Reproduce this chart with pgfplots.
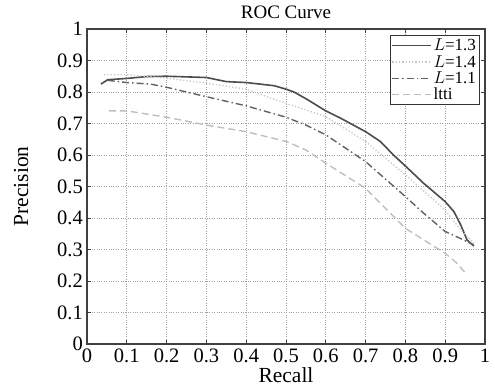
\documentclass[border=0pt]{standalone}
\usepackage{fontspec}
\setmainfont{Liberation Serif}
\usepackage{pgfplots}
\pgfplotsset{compat=1.18}
\begin{document}
\begin{tikzpicture}
\begin{axis}[
  scale only axis, width=398pt, height=315pt,
  xmin=0, xmax=1, ymin=0, ymax=1,
  /pgf/number format/assume math mode=true,
  xtick={0,0.1,...,1}, ytick={0,0.1,...,1},
  xticklabels={0,0.1,0.2,0.3,0.4,0.5,0.6,0.7,0.8,0.9,1},
  yticklabels={0,0.1,0.2,0.3,0.4,0.5,0.6,0.7,0.8,0.9,1},
  tick label style={font=\fontsize{20.5}{20.5}\selectfont},
  xticklabel style={inner sep=0pt, yshift=-5pt},
  yticklabel style={inner sep=0pt, xshift=-4pt},
  grid=major, grid style={dotted, gray!75, line width=0.9pt},
  axis line style={draw=black!75, line width=1.1pt},
  tick style={draw=black!75, line width=0.9pt},
  tick align=inside, major tick length=4pt,
  title={ROC Curve},
  title style={font=\fontsize{19}{19}\selectfont, at={(axis description cs:0.5,1.0127)}, anchor=base},
  xlabel={Recall}, ylabel={Precision},
  xlabel style={font=\fontsize{21.5}{21.5}\selectfont, at={(axis description cs:0.5,-0.1238)}, anchor=base},
  ylabel style={font=\fontsize{21.5}{21.5}\selectfont, at={(axis description cs:-0.148,0.5)}, anchor=base},
  legend style={at={(0.9874,0.981)}, anchor=north east, draw=black!80, line width=1.1pt,
    font=\fontsize{17}{17}\selectfont, row sep=-1pt, inner sep=1.5pt},
  legend cell align=left,
  legend image code/.code={\draw[#1] (0cm,0cm) -- (1.35cm,0cm);},
]
\addplot[black!70, line width=1.6pt] coordinates {
(0.035,0.825)(0.052,0.839)(0.1,0.843)(0.15,0.849)(0.2,0.85)(0.3,0.846)(0.35,0.833)(0.4,0.83)(0.47,0.82)(0.5,0.809)(0.52,0.8)(0.555,0.775)(0.6,0.74)(0.637,0.717)(0.7,0.674)(0.737,0.643)(0.77,0.6)(0.8,0.565)(0.846,0.51)(0.9,0.452)(0.922,0.42)(0.939,0.378)(0.955,0.33)(0.972,0.311)};
\addlegendentry{$L$=1.3}
\addplot[black!22, dotted, line width=1.3pt] coordinates {
(0.043,0.855)(0.1,0.855)(0.2,0.844)(0.3,0.828)(0.4,0.809)(0.5,0.764)(0.6,0.722)(0.7,0.643)(0.8,0.537)(0.9,0.425)(0.939,0.362)(0.972,0.32)};
\addlegendentry{$L$=1.4}
\addplot[black!62, line width=1.4pt, dash pattern=on 7pt off 3pt on 1.5pt off 3pt] coordinates {
(0.052,0.837)(0.1,0.83)(0.16,0.825)(0.2,0.815)(0.3,0.785)(0.4,0.756)(0.5,0.72)(0.55,0.695)(0.6,0.664)(0.7,0.579)(0.8,0.468)(0.846,0.415)(0.9,0.357)(0.947,0.33)(0.972,0.314)};
\addlegendentry{$L$=1.1}
\addplot[black!25, line width=1.4pt, dash pattern=on 7pt off 4pt] coordinates {
(0.055,0.74)(0.1,0.74)(0.2,0.72)(0.3,0.695)(0.4,0.674)(0.5,0.643)(0.55,0.616)(0.6,0.574)(0.7,0.494)(0.8,0.367)(0.9,0.288)(0.93,0.256)(0.955,0.219)};
\addlegendentry{ltti}
\end{axis}
\path (current axis.south west) ++(-87pt,-43pt) coordinate (bbA);
\path (current axis.north east) ++(10pt,29pt) coordinate (bbB);
\path (bbA) rectangle (bbB);
\end{tikzpicture}
\end{document}
